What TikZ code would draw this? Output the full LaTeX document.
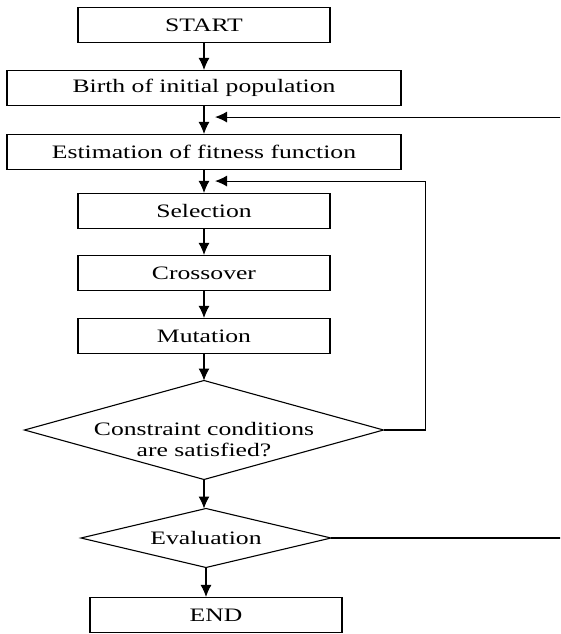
\documentclass[tikz,border=0pt]{standalone}
\usepackage{fontspec}
\setmainfont[FakeStretch=1.35]{Liberation Serif}
\usetikzlibrary{shapes,arrows,arrows.meta,calc,positioning}
\tikzstyle{line} = [draw, -{Latex[length=12pt, width=11pt]}]
\tikzstyle{block} = [draw, rectangle, text centered, minimum height=35pt, minimum width=252pt]
\tikzstyle{wideblock} = [block, minimum width=394pt]
\tikzstyle{decision} = [draw, diamond, text centered, inner sep=0pt, outer sep=0pt]

\begin{document}
\begin{tikzpicture}[x=1pt, y=1pt, node distance=63pt, line width=1.1pt, font=\fontsize{19}{21}\selectfont]
        \useasboundingbox (0,0) rectangle (560,-634);
        \clip (0,0) rectangle (560,-634);
        \node[block] (start) at (204,-25) {START};
        \node[wideblock, below of=start] (birth) {Birth of initial population};
        \node[wideblock, below of=birth, node distance=64pt] (fitness) {Estimation of fitness function};
        \node[block, below of=fitness, node distance=59pt] (select) {Selection};
        \node[block, below of=select, node distance=62pt] (cross) {Crossover};
        \node[block, below of=cross] (mutate) {Mutation};
        \node[decision, below of=mutate, node distance=94pt, minimum width=359pt, minimum height=99pt,
              label={[align=center, yshift=-10pt]center:Constraint conditions\\are satisfied?}] (check) {};
        \node[decision, below of=check, node distance=108pt, xshift=2pt, minimum width=250pt, minimum height=59pt,
              label={center:Evaluation}] (eval) {};
        \node[block, below of=eval, node distance=77pt, xshift=10pt] (stop) {END};
        % join points of the loops
        \coordinate (join1) at ($(birth.south)+(11,-11)$);
        \coordinate (join2) at ($(fitness.south)+(11,-11)$);
        \path[line] (start) -- (birth);
        \path[line] (birth) -- (fitness);
        \path[line] (fitness) -- (select);
        \path[line] (select) -- (cross);
        \path[line] (cross) -- (mutate);
        \path[line] (mutate) -- (check);
        \path[line] (check.south) -- (check.south |- eval.north);
        \path[line] (eval.south) -- (eval.south |- stop.north);
        \path[line] (check.east) -- ++(42,0) |- (join2);
        \path[line] (eval.east) -- ++(270,0) |- (join1);
    \end{tikzpicture}
\end{document}
